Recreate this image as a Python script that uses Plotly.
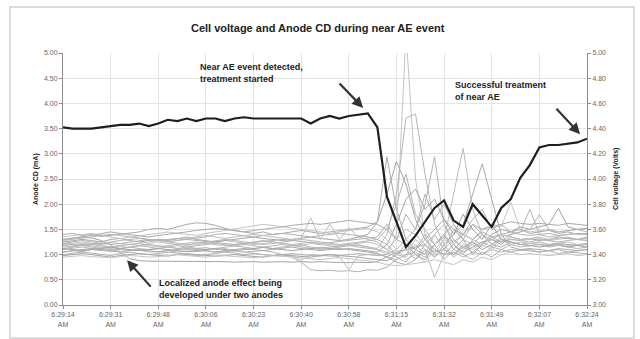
import plotly.graph_objects as go

# ---------------- data ----------------
x_idx = list(range(56))
tick_pos = list(range(0, 56, 5))
tick_labels = ["6:29:14<br>AM", "6:29:31<br>AM", "6:29:48<br>AM", "6:30:06<br>AM",
               "6:30:23<br>AM", "6:30:40<br>AM", "6:30:58<br>AM", "6:31:15<br>AM",
               "6:31:32<br>AM", "6:31:49<br>AM", "6:32:07<br>AM", "6:32:24<br>AM"]

cell_voltage = [4.41, 4.40, 4.40, 4.40, 4.41, 4.42, 4.43, 4.43, 4.44, 4.42,
                4.44, 4.47, 4.46, 4.48, 4.46, 4.48, 4.48, 4.46, 4.48, 4.49,
                4.48, 4.48, 4.48, 4.48, 4.48, 4.48, 4.44, 4.48, 4.50, 4.48,
                4.50, 4.51, 4.52, 4.41, 3.86, 3.66, 3.46, 3.55, 3.66, 3.77,
                3.83, 3.67, 3.62, 3.80, 3.71, 3.62, 3.77, 3.84, 4.01, 4.11,
                4.25, 4.27, 4.27, 4.28, 4.29, 4.32]

anode_01 = [1.30, 1.32, 1.35, 1.33, 1.28, 1.20, 1.05, 0.92, 0.88, 0.87,
            0.87, 0.86, 0.87, 0.86, 0.86, 0.87, 0.86, 0.86, 0.85, 0.86,
            0.86, 0.85, 0.86, 0.86, 0.85, 0.86, 0.85, 0.86, 0.85, 0.84,
            0.84, 0.85, 0.84, 0.86, 0.95, 1.05, 1.10, 1.15, 1.20, 1.05,
            1.10, 1.00, 1.15, 1.25, 1.10, 1.20, 1.15, 1.25, 1.20, 1.22,
            1.20, 1.18, 1.22, 1.20, 1.18, 1.20]
anode_02 = [1.05, 1.08, 1.06, 1.10, 1.08, 1.07, 1.10, 1.08, 1.09, 1.05,
            1.06, 1.08, 1.05, 1.07, 1.06, 1.08, 1.05, 1.06, 1.07, 1.05,
            1.06, 1.08, 1.05, 1.00, 0.95, 0.85, 0.70, 0.68, 0.69, 0.67,
            0.68, 0.66, 0.70, 0.69, 0.75, 0.90, 1.00, 1.05, 0.95, 1.10,
            1.00, 1.05, 0.95, 1.05, 1.00, 1.10, 1.05, 1.10, 1.08, 1.10,
            1.05, 1.08, 1.02, 1.05, 1.04, 1.02]
anode_03 = [1.18, 1.15, 1.20, 1.17, 1.15, 1.12, 1.16, 1.14, 1.18, 1.15,
            1.12, 1.15, 1.13, 1.10, 1.12, 1.14, 1.10, 1.12, 1.08, 1.05,
            1.02, 1.00, 0.98, 0.97, 0.99, 0.88, 1.00, 0.98, 0.97, 0.96,
            0.70, 0.98, 1.00, 1.02, 0.95, 0.90, 1.00, 1.30, 1.10, 0.55,
            1.00, 1.00, 1.20, 1.10, 1.25, 1.15, 1.30, 1.20, 1.25, 1.22,
            1.25, 1.20, 1.23, 1.25, 1.20, 1.22]
anode_04 = [1.40, 1.42, 1.38, 1.40, 1.36, 1.38, 1.40, 1.42, 1.45, 1.50,
            1.52, 1.50, 1.55, 1.60, 1.63, 1.62, 1.58, 1.52, 1.48, 1.45,
            1.42, 1.45, 1.40, 1.42, 1.45, 1.48, 1.45, 1.42, 1.45, 1.48,
            1.50, 1.52, 1.55, 1.65, 2.94, 1.90, 1.30, 1.10, 1.00, 1.20,
            1.35, 1.25, 1.40, 1.30, 1.45, 1.35, 1.40, 1.45, 1.50, 1.42,
            1.45, 1.48, 1.42, 1.45, 1.40, 1.42]
anode_05 = [1.20, 1.22, 1.25, 1.22, 1.20, 1.24, 1.22, 1.20, 1.18, 1.22,
            1.25, 1.22, 1.20, 1.18, 1.20, 1.22, 1.25, 1.28, 1.25, 1.22,
            1.20, 1.22, 1.25, 1.22, 1.20, 1.18, 1.22, 1.20, 1.18, 1.15,
            1.18, 1.20, 1.15, 1.10, 1.00, 1.40, 5.40, 2.50, 1.40, 0.95,
            1.10, 1.30, 1.15, 1.05, 1.20, 1.10, 1.25, 1.30, 1.28, 1.30,
            1.32, 1.28, 1.30, 1.33, 1.30, 1.28]
anode_06 = [1.10, 1.12, 1.15, 1.12, 1.10, 1.08, 1.12, 1.15, 1.12, 1.10,
            1.12, 1.15, 1.18, 1.15, 1.12, 1.10, 1.12, 1.15, 1.18, 1.20,
            1.18, 1.15, 1.12, 1.15, 1.18, 1.20, 1.15, 1.12, 1.15, 1.18,
            1.20, 1.18, 1.15, 1.12, 1.40, 2.20, 3.71, 3.79, 2.60, 1.60,
            1.20, 0.95, 1.10, 1.20, 1.00, 1.15, 1.10, 1.20, 1.15, 1.18,
            1.20, 1.15, 1.18, 1.15, 1.12, 1.15]
anode_07 = [1.25, 1.28, 1.30, 1.28, 1.25, 1.30, 1.32, 1.28, 1.25, 1.28,
            1.30, 1.28, 1.32, 1.35, 1.30, 1.28, 1.25, 1.28, 1.30, 1.32,
            1.35, 1.32, 1.30, 1.28, 1.30, 1.32, 1.35, 1.32, 1.30, 1.28,
            1.30, 1.35, 1.40, 1.65, 2.20, 2.85, 2.40, 1.70, 1.30, 1.10,
            1.00, 1.20, 1.05, 1.15, 1.25, 1.30, 1.20, 1.35, 1.30, 1.32,
            1.28, 1.30, 1.35, 1.32, 1.30, 1.35]
anode_08 = [1.00, 1.02, 1.05, 1.03, 1.00, 0.98, 1.02, 1.05, 1.02, 1.00,
            1.02, 1.05, 1.03, 1.00, 0.98, 1.00, 1.02, 1.05, 1.03, 1.00,
            1.02, 1.00, 0.98, 1.00, 1.02, 1.00, 0.98, 0.97, 1.00, 0.98,
            1.00, 1.02, 1.00, 0.98, 1.00, 1.10, 1.30, 1.50, 2.00, 2.94,
            1.60, 1.20, 1.00, 0.90, 1.05, 0.95, 1.10, 1.05, 1.10, 1.08,
            1.05, 1.08, 1.10, 1.05, 1.08, 1.10]
anode_09 = [1.15, 1.18, 1.20, 1.22, 1.18, 1.15, 1.18, 1.20, 1.22, 1.18,
            1.15, 1.18, 1.20, 1.22, 1.25, 1.22, 1.20, 1.18, 1.20, 1.22,
            1.25, 1.28, 1.25, 1.22, 1.20, 1.22, 1.25, 1.22, 1.20, 1.18,
            1.20, 1.22, 1.25, 1.20, 1.10, 1.30, 1.50, 1.40, 1.20, 1.00,
            1.30, 2.20, 3.11, 1.90, 1.40, 1.20, 1.30, 1.25, 1.20, 1.22,
            1.25, 1.20, 1.22, 1.18, 1.20, 1.22]
anode_10 = [1.05, 1.08, 1.10, 1.12, 1.10, 1.08, 1.05, 1.08, 1.10, 1.08,
            1.05, 1.08, 1.10, 1.12, 1.10, 1.08, 1.05, 1.08, 1.10, 1.12,
            1.10, 1.08, 1.10, 1.12, 1.15, 1.12, 1.10, 1.08, 1.10, 1.12,
            1.10, 1.08, 1.05, 1.02, 0.95, 0.85, 0.80, 0.90, 1.10, 0.95,
            1.20, 1.40, 1.60, 2.20, 2.80, 2.10, 1.40, 1.15, 1.10, 1.12,
            1.10, 1.08, 1.12, 1.10, 1.08, 1.10]
anode_11 = [1.35, 1.38, 1.40, 1.42, 1.38, 1.35, 1.32, 1.35, 1.38, 1.40,
            1.42, 1.45, 1.42, 1.40, 1.38, 1.42, 1.45, 1.48, 1.52, 1.55,
            1.58, 1.60, 1.58, 1.55, 1.52, 1.50, 1.48, 1.45, 1.42, 1.45,
            1.48, 1.50, 1.52, 1.45, 1.30, 1.10, 0.90, 1.00, 0.85, 1.10,
            1.30, 1.20, 1.40, 1.30, 1.50, 1.60, 1.55, 2.04, 1.50, 1.45,
            1.48, 1.50, 1.45, 1.48, 1.50, 1.52]
anode_12 = [1.12, 1.15, 1.18, 1.15, 1.12, 1.10, 1.12, 1.15, 1.18, 1.20,
            1.18, 1.15, 1.12, 1.15, 1.18, 1.20, 1.22, 1.20, 1.18, 1.15,
            1.12, 1.15, 1.18, 1.20, 1.18, 1.15, 1.12, 1.10, 1.12, 1.15,
            1.18, 1.15, 1.12, 1.10, 1.05, 0.95, 0.85, 1.10, 1.40, 1.20,
            0.90, 1.10, 1.00, 1.30, 1.20, 1.35, 1.25, 1.40, 1.45, 1.90,
            1.40, 1.35, 1.38, 1.40, 1.42, 1.40]
anode_13 = [0.98, 1.00, 1.02, 1.00, 0.98, 0.95, 0.98, 1.00, 1.02, 1.00,
            0.98, 0.97, 1.00, 1.02, 1.00, 0.98, 0.97, 0.98, 1.00, 0.98,
            0.97, 0.95, 0.98, 1.00, 0.98, 0.97, 0.95, 0.98, 1.00, 0.98,
            0.97, 0.95, 0.92, 0.90, 0.88, 1.00, 1.20, 1.00, 0.90, 1.20,
            1.40, 1.10, 1.30, 1.00, 1.20, 1.40, 1.50, 1.45, 1.55, 1.50,
            1.55, 1.60, 1.92, 1.55, 1.50, 1.52]
anode_14 = [1.22, 1.25, 1.28, 1.25, 1.22, 1.20, 1.22, 1.25, 1.28, 1.30,
            1.28, 1.25, 1.28, 1.30, 1.32, 1.35, 1.40, 1.42, 1.40, 1.38,
            1.35, 1.38, 1.40, 1.42, 1.40, 1.38, 1.35, 1.38, 1.40, 1.42,
            1.40, 1.38, 1.35, 1.30, 1.20, 1.00, 1.10, 0.90, 1.20, 1.40,
            1.10, 1.50, 1.30, 1.60, 1.40, 1.20, 1.35, 1.40, 1.45, 1.50,
            1.79, 1.50, 1.45, 1.48, 1.50, 1.45]
anode_15 = [1.18, 1.20, 1.22, 1.20, 1.18, 1.15, 1.18, 1.20, 1.22, 1.25,
            1.28, 1.30, 1.28, 1.32, 1.35, 1.38, 1.35, 1.32, 1.35, 1.38,
            1.40, 1.38, 1.35, 1.32, 1.30, 1.32, 1.73, 1.30, 1.60, 1.30,
            1.53, 1.35, 1.30, 1.25, 1.10, 1.00, 0.95, 1.20, 1.00, 1.40,
            1.60, 1.30, 1.10, 1.25, 1.15, 1.30, 1.40, 1.35, 1.30, 1.32,
            1.35, 1.30, 1.32, 1.35, 1.30, 1.32]
anode_16 = [1.30, 1.32, 1.35, 1.38, 1.42, 1.45, 1.42, 1.40, 1.38, 1.35,
            1.38, 1.40, 1.42, 1.45, 1.48, 1.50, 1.52, 1.50, 1.48, 1.45,
            1.48, 1.50, 1.52, 1.55, 1.58, 1.60, 1.62, 1.60, 1.62, 1.65,
            1.68, 1.65, 1.62, 1.60, 1.50, 1.30, 1.20, 1.10, 1.30, 1.50,
            1.70, 1.50, 1.40, 1.60, 1.50, 1.55, 1.60, 1.65, 1.62, 1.60,
            1.62, 1.60, 1.58, 1.62, 1.60, 1.58]
anode_17 = [0.95, 0.97, 0.98, 0.96, 0.95, 0.94, 0.96, 0.98, 0.97, 0.95,
            0.96, 0.98, 1.00, 0.98, 0.96, 0.95, 0.97, 0.98, 0.96, 0.95,
            0.94, 0.96, 0.98, 0.97, 0.95, 0.94, 0.92, 0.90, 0.92, 0.94,
            0.92, 0.90, 0.88, 0.85, 0.80, 0.78, 0.80, 0.82, 0.85, 0.90,
            0.85, 0.80, 0.90, 0.85, 0.95, 0.90, 1.00, 1.05, 1.00, 1.02,
            1.00, 0.98, 1.00, 1.02, 0.98, 1.00]
anode_18 = [1.28, 1.30, 1.32, 1.35, 1.38, 1.40, 1.38, 1.35, 1.32, 1.30,
            1.28, 1.25, 1.22, 1.20, 1.22, 1.25, 1.28, 1.30, 1.28, 1.25,
            1.22, 1.20, 1.22, 1.25, 1.28, 1.30, 1.28, 1.25, 1.22, 1.20,
            1.22, 1.25, 1.28, 1.30, 1.50, 2.00, 2.60, 1.80, 1.50, 1.20,
            1.40, 1.60, 1.30, 1.20, 1.40, 1.30, 1.25, 1.30, 1.28, 1.25,
            1.30, 1.28, 1.25, 1.28, 1.30, 1.28]
anode_19 = [1.12, 1.10, 1.08, 1.10, 1.12, 1.15, 1.12, 1.10, 1.08, 1.10,
            1.12, 1.10, 1.08, 1.06, 1.08, 1.10, 1.12, 1.10, 1.08, 1.10,
            1.12, 1.14, 1.12, 1.10, 1.08, 1.10, 1.12, 1.14, 1.12, 1.10,
            1.12, 1.10, 1.08, 1.05, 1.20, 1.60, 2.10, 2.30, 1.90, 2.10,
            1.70, 1.40, 1.80, 1.50, 1.30, 1.60, 1.30, 1.25, 1.20, 1.18,
            1.15, 1.18, 1.20, 1.15, 1.18, 1.15]
anode_20 = [1.22, 1.20, 1.18, 1.20, 1.22, 1.25, 1.28, 1.30, 1.32, 1.30,
            1.28, 1.30, 1.32, 1.30, 1.28, 1.26, 1.24, 1.22, 1.20, 1.22,
            1.24, 1.26, 1.28, 1.30, 1.28, 1.26, 1.24, 1.22, 1.24, 1.26,
            1.28, 1.30, 1.32, 1.35, 1.60, 1.30, 1.80, 1.50, 2.20, 1.70,
            2.00, 1.60, 1.40, 1.70, 1.90, 1.50, 1.60, 1.45, 1.40, 1.38,
            1.40, 1.42, 1.38, 1.40, 1.42, 1.40]

anode_series = [anode_01, anode_02, anode_03, anode_04, anode_05, anode_06,
                anode_07, anode_08, anode_09, anode_10, anode_11, anode_12,
                anode_13, anode_14, anode_15, anode_16, anode_17, anode_18,
                anode_19, anode_20]
gray_shades = ["#a4a4a4", "#b2b2b2", "#bdbdbd", "#aaaaaa", "#c4c4c4", "#b6b6b6"]

# ---------------- figure ----------------
FONT = "Liberation Sans, Arial, sans-serif"
fig = go.Figure()

for k, s in enumerate(anode_series):
    fig.add_trace(go.Scatter(x=x_idx, y=s, mode="lines",
                             line=dict(color=gray_shades[k % len(gray_shades)], width=1),
                             hoverinfo="skip", showlegend=False))

fig.add_trace(go.Scatter(x=x_idx, y=cell_voltage, mode="lines", yaxis="y2",
                         line=dict(color="#1e1e1e", width=2.2),
                         showlegend=False))

tickfont = dict(family=FONT, size=7, color="#666666")

fig.update_layout(
    width=640, height=339,
    margin=dict(l=63, r=53, t=53, b=34),
    paper_bgcolor="white", plot_bgcolor="white",
    showlegend=False,
    xaxis=dict(range=[0, 55], tickmode="array", tickvals=tick_pos, ticktext=tick_labels,
               tickfont=tickfont, showgrid=True, gridcolor="#e4e4e4", gridwidth=1,
               showline=True, linecolor="#8c8c8c", linewidth=1,
               ticks="outside", ticklen=3, tickcolor="#8c8c8c", zeroline=False),
    yaxis=dict(range=[0, 5], tickmode="array", tickvals=[i * 0.5 for i in range(11)],
               ticktext=["%.2f" % (i * 0.5) for i in range(11)],
               tickfont=tickfont, showgrid=True, gridcolor="#e4e4e4", gridwidth=1,
               showline=True, linecolor="#8c8c8c", linewidth=1,
               ticks="outside", ticklen=3, tickcolor="#8c8c8c", zeroline=False),
    yaxis2=dict(range=[3, 5], overlaying="y", side="right", tickmode="array",
                tickvals=[3 + i * 0.2 for i in range(11)],
                ticktext=["%.2f" % (3 + i * 0.2) for i in range(11)],
                tickfont=tickfont, showgrid=False,
                showline=True, linecolor="#8c8c8c", linewidth=1,
                ticks="outside", ticklen=3, tickcolor="#8c8c8c", zeroline=False),
)

# title
fig.add_annotation(text="<b>Cell voltage and Anode CD during near AE event</b>",
                   xref="paper", yref="paper", x=0.487, y=1.0, yshift=33,
                   showarrow=False, font=dict(family=FONT, size=11, color="#222222"))

# axis titles
fig.add_annotation(text="<b>Anode CD (mA)</b>", xref="paper", yref="paper",
                   x=-0.063, y=0.5, textangle=-90, showarrow=False,
                   font=dict(family=FONT, size=7, color="#222222"))
fig.add_annotation(text="<b>Cell voltage (Volts)</b>", xref="paper", yref="paper",
                   x=1.067, y=0.5, textangle=-90, showarrow=False,
                   font=dict(family=FONT, size=7, color="#222222"))

afont = dict(family=FONT, size=9, color="#222222")

# text notes
fig.add_annotation(text="<b>Near AE event detected,<br>treatment started</b>",
                   x=14.2, y=4.61, xref="x", yref="y", xanchor="left", yanchor="middle",
                   align="left", showarrow=False, font=afont)
fig.add_annotation(text="<b>Successful treatment<br>of near AE</b>",
                   x=40.9, y=4.25, xref="x", yref="y", xanchor="left", yanchor="middle",
                   align="left", showarrow=False, font=afont)
fig.add_annotation(text="<b>Localized anode effect being<br>developed under two anodes</b>",
                   x=9.9, y=0.32, xref="x", yref="y", xanchor="left", yanchor="middle",
                   align="left", showarrow=False, font=afont)

# arrows
for hx, hy, ax, ay in [(31.5, 3.91, -25, -26), (54.27, 3.39, -25, -27), (6.72, 0.89, 25, 28)]:
    fig.add_annotation(x=hx, y=hy, xref="x", yref="y", ax=ax, ay=ay, text="",
                       showarrow=True, arrowhead=2, arrowsize=1, arrowwidth=2.2,
                       arrowcolor="#333333")

# chart border
fig.add_shape(type="rect", xref="paper", yref="paper",
              x0=(10 - 63) / 524, x1=(634 - 63) / 524,
              y0=(305 - 338) / 252, y1=(305 - 7) / 252,
              line=dict(color="#cfcfcf", width=1.5), fillcolor="rgba(0,0,0,0)", layer="below")

fig.write_html("out.html")
